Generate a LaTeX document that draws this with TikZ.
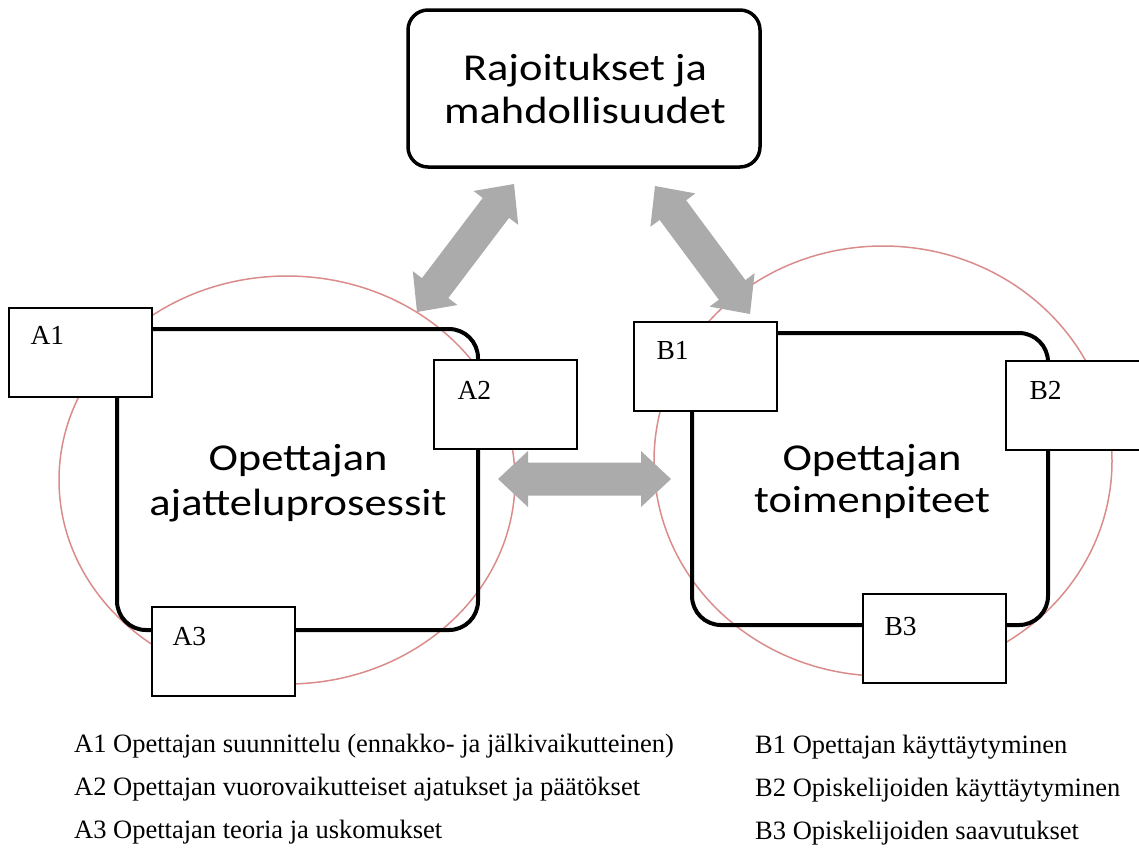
\documentclass[tikz,border=0pt]{standalone}
\usepackage{fontspec}
\setmainfont{Liberation Serif}
\newfontfamily\headfont{Carlito}[FakeStretch=1.17]
\usetikzlibrary{calc}

\definecolor{ringpink}{RGB}{218,140,140}
\definecolor{arrowgray}{RGB}{171,171,171}

% double-headed block arrow between two named coordinates
\newcommand\dblblockarrow[2]{%
  \fill[arrowgray]
    (#1) -- ($(#1)!30pt!(#2)!28pt!90:(#2)$)
    -- ($(#1)!30pt!(#2)!16.5pt!90:(#2)$)
    -- ($(#2)!30pt!(#1)!16.5pt!-90:(#1)$)
    -- ($(#2)!30pt!(#1)!28pt!-90:(#1)$)
    -- (#2)
    -- ($(#2)!30pt!(#1)!28pt!90:(#1)$)
    -- ($(#2)!30pt!(#1)!16.5pt!90:(#1)$)
    -- ($(#1)!30pt!(#2)!16.5pt!-90:(#2)$)
    -- ($(#1)!30pt!(#2)!28pt!-90:(#2)$)
    -- cycle;}

\tikzset{
  ring/.style={draw=ringpink, line width=1.5pt},
  frame/.style={draw=black, line width=4pt, rounded corners=29pt, fill=none, inner sep=0pt},
  topbox/.style={draw=black, line width=3.5pt, rounded corners=20pt, fill=white, inner sep=0pt},
  tagbox/.style={draw=black, line width=1.3pt, fill=white, minimum width=143pt, minimum height=89pt, inner sep=0pt},
  taglabel/.style={inner sep=0pt, anchor=base west, font=\fontsize{27.5}{30}\selectfont},
  headtext/.style={inner sep=0pt, anchor=base, align=center, font=\headfont\fontsize{38}{44}\selectfont},
  legend/.style={inner sep=0pt, anchor=base west, font=\fontsize{26.5}{30}\selectfont},
}

\begin{document}
\begin{tikzpicture}[x=1pt, y=-1pt]
  \useasboundingbox (0,0) rectangle (1139,847);
  \clip (0,0) rectangle (1139,847);

  % circular process rings
  \draw[ring] (287,480) ellipse [x radius=228, y radius=204];
  \draw[ring] (883,461) ellipse [x radius=229, y radius=215];

  % main frames
  \node[frame, minimum width=361pt, minimum height=301pt] (think) at (297.5,479.5) {};
  \node[frame, minimum width=356pt, minimum height=292pt] (act) at (870,479) {};

  % constraints box (text anchored on the baseline of its last line)
  \node[topbox, minimum width=352pt, minimum height=157pt] (limits) at (584,88.5) {};
  \node[headtext, font=\headfont\fontsize{38}{43}\selectfont] (limitstext) at (585,123)
    {Rajoitukset ja\\mahdollisuudet};

  % frame titles
  \node[headtext, font=\headfont\fontsize{38}{45}\selectfont] (thinktext) at (298,515) {Opettajan\\ajatteluprosessit};
  \node[headtext, font=\headfont\fontsize{38}{42}\selectfont] (acttext) at (872,512) {Opettajan\\toimenpiteet};

  % tag boxes
  \node[tagbox] (A1) at (80.5,352.5) {};
  \node[tagbox] (A2) at (505.5,404.5) {};
  \node[tagbox] (A3) at (223.5,651.5) {};
  \node[tagbox] (B1) at (705.5,366.5) {};
  \node[tagbox] (B2) at (1077.5,405.5) {};
  \node[tagbox] (B3) at (934.5,638.5) {};

  \node[taglabel] (A1t) at ($(A1.north west)+(22,37)$) {A1};
  \node[taglabel] (A2t) at ($(A2.north west)+(24,40)$) {A2};
  \node[taglabel] (A3t) at ($(A3.north west)+(21,39)$) {A3};
  \node[taglabel] (B1t) at ($(B1.north west)+(23,38)$) {B1};
  \node[taglabel] (B2t) at ($(B2.north west)+(24,39)$) {B2};
  \node[taglabel] (B3t) at ($(B3.north west)+(22,42)$) {B3};

  % arrow end points
  \coordinate (thinkUp) at (417,312);
  \coordinate (limitsL) at (514,184);
  \coordinate (limitsR) at (655,186);
  \coordinate (actUp) at (750,314);
  \coordinate (thinkR) at (498,479);
  \coordinate (actL) at (671,479);

  \dblblockarrow{thinkUp}{limitsL}
  \dblblockarrow{limitsR}{actUp}
  \dblblockarrow{thinkR}{actL}

  % legend
  \node[legend] (legA1) at (74,752) {A1 Opettajan suunnittelu (ennakko- ja jälkivaikutteinen)};
  \node[legend] (legA2) at (74,795) {A2 Opettajan vuorovaikutteiset ajatukset ja päätökset};
  \node[legend] (legA3) at (74,838) {A3 Opettajan teoria ja uskomukset};
  \node[legend] (legB1) at (755,753) {B1 Opettajan käyttäytyminen};
  \node[legend] (legB2) at (755,796) {B2 Opiskelijoiden käyttäytyminen};
  \node[legend] (legB3) at (755,839) {B3 Opiskelijoiden saavutukset};
\end{tikzpicture}
\end{document}
